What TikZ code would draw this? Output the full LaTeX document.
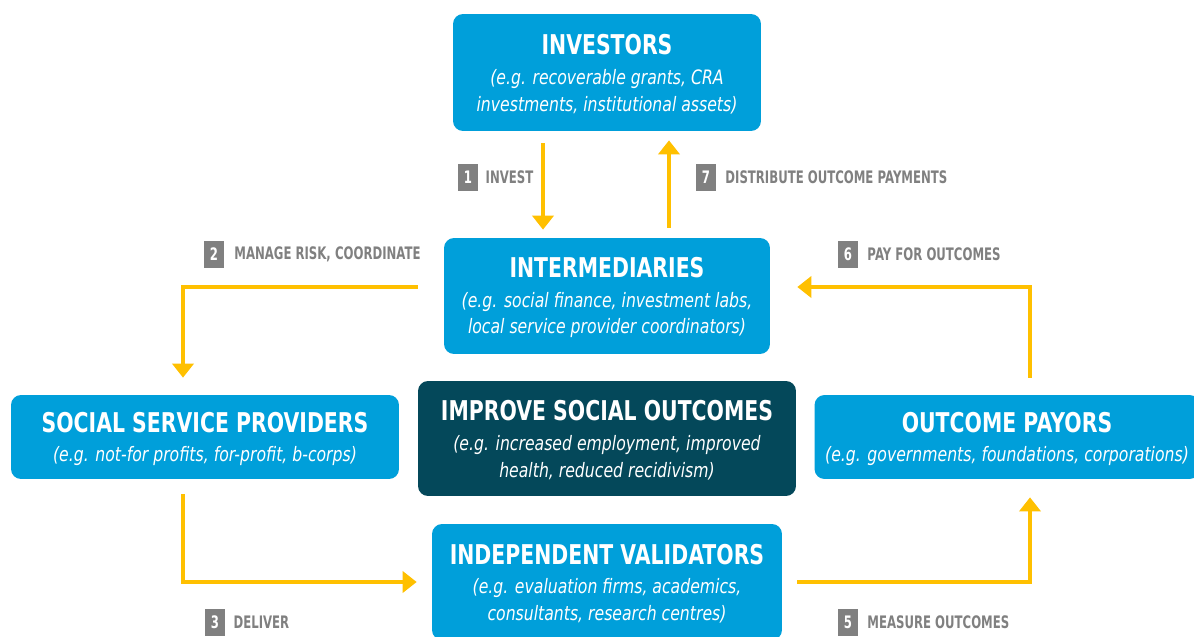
\documentclass[tikz,border=0pt]{standalone}
\usepackage{fontspec}
\setmainfont{DejaVu Sans}
\newfontfamily\titlefamily{DejaVu Sans}[FakeStretch=0.75]
\newfontfamily\notefamily{DejaVu Sans}[FakeStretch=0.79]
\newfontfamily\stepfamily{DejaVu Sans}[FakeStretch=0.68]
\usetikzlibrary{calc,positioning,arrows.meta}
\definecolor{boxblue}{RGB}{0,159,218}
\definecolor{boxteal}{RGB}{4,72,90}
\definecolor{flowyellow}{RGB}{255,192,0}
\definecolor{numgrey}{RGB}{128,128,128}
\newcommand{\titlefont}{\titlefamily\fontsize{15.5}{18}\selectfont\bfseries\upshape\rule{0pt}{13.5pt}}
\newcommand{\notefont}{\notefamily\fontsize{11.3}{15.3}\selectfont\itshape}
\tikzset{
	actor/.style={fill=boxblue,rounded corners=0.2cm,text=white,align=center,inner sep=0pt,font=\notefont},
	flow/.style={draw=flowyellow,line width=2.8pt,-{Triangle[width=12pt,length=8pt]}},
	numbox/.style={fill=numgrey,text=white,font=\stepfamily\fontsize{9.8}{11}\selectfont\bfseries,minimum width=0.4cm,minimum height=0.54cm,inner sep=0pt},
	steplabel/.style={text=numgrey,font=\stepfamily\fontsize{9.8}{11}\selectfont\bfseries,inner sep=0pt,anchor=west}
}
\begin{document}
\begin{tikzpicture}[x=0.02cm,y=-0.02cm]
	\clip(0,0)rectangle(1194,636);
	\fill[white](0,0)rectangle(1194,636);
	% boxes
	\node[actor,minimum width=6.16cm,minimum height=2.34cm](inv)at(607,72.5){{\titlefont INVESTORS}\\[1.5pt](e.g. recoverable grants, CRA\\investments, institutional assets)};
	\node[actor,minimum width=6.52cm,minimum height=2.32cm](int)at(607,296){{\titlefont INTERMEDIARIES}\\[1.5pt](e.g. social finance, investment labs,\\local service provider coordinators)};
	\node[actor,minimum width=7.76cm,minimum height=1.68cm](ssp)at(205,437){{\titlefont SOCIAL SERVICE PROVIDERS}\\[1.5pt](e.g. not-for profits, for-profit, b-corps)};
	\node[actor,fill=boxteal,minimum width=7.56cm,minimum height=2.3cm](iso)at(607,438.5){{\titlefont IMPROVE SOCIAL OUTCOMES}\\[1.5pt](e.g. increased employment, improved\\health, reduced recidivism)};
	\node[actor,minimum width=7.7cm,minimum height=1.68cm](op)at(1007,437){{\titlefont OUTCOME PAYORS}\\[1.5pt](e.g. governments, foundations, corporations)};
	\node[actor,minimum width=7cm,minimum height=2.32cm](iv)at(607,582){{\titlefont INDEPENDENT VALIDATORS}\\[1.5pt](e.g. evaluation firms, academics,\\consultants, research centres)};
	% flows
	\draw[flow]($(inv.south)+(-64,12)$)--($(int.north)+(-64,-8)$);
	\draw[flow]($(int.north)+(62,-10)$)--($(inv.south)+(62,9)$);
	\draw[flow]($(int.west)+(-26,-9)$)-|($(ssp.north)+(-22,-17)$);
	\draw[flow]($(ssp.south)+(-22,15)$)|-($(iv.west)+(-15,0)$);
	\draw[flow]($(iv.east)+(15,0)$)-|($(op.south)+(23,18)$);
	\draw[flow]($(op.north)+(23,-17)$)|-($(int.east)+(27,-9)$);
	% step labels
	\node[numbox](n1)at(468,177){1};
	\node[steplabel,right=4pt of n1]{INVEST};
	\node[numbox](n2)at(214,254){2};
	\node[steplabel,right=5.5pt of n2]{MANAGE RISK, COORDINATE};
	\node[numbox](n3)at(215,622){3};
	\node[steplabel,right=4.5pt of n3]{DELIVER};
	\node[numbox](n5)at(848,622){5};
	\node[steplabel,right=5pt of n5]{MEASURE OUTCOMES};
	\node[numbox](n6)at(848,254){6};
	\node[steplabel,right=5pt of n6]{PAY FOR OUTCOMES};
	\node[numbox](n7)at(706,177){7};
	\node[steplabel,right=5pt of n7]{DISTRIBUTE OUTCOME PAYMENTS};
\end{tikzpicture}
\end{document}
